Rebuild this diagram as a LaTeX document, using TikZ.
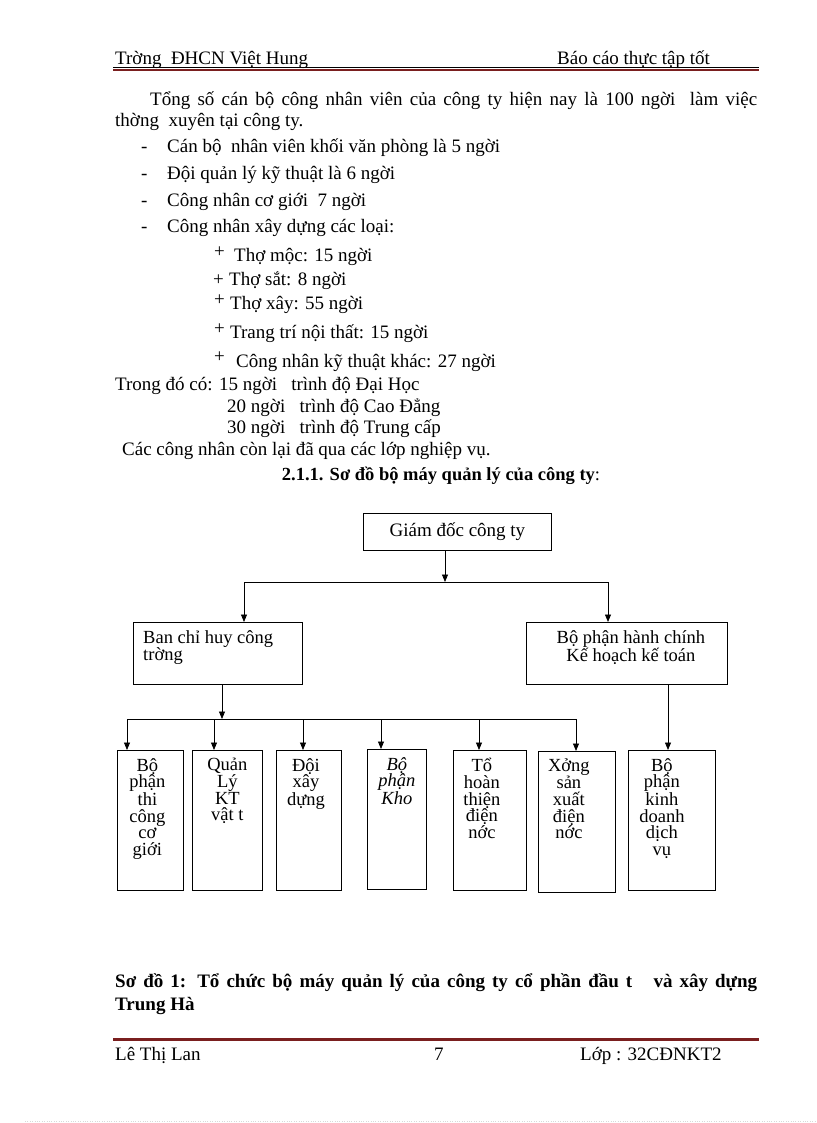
\documentclass[tikz,border=0pt]{standalone}
\usepackage{fontspec}
\setmainfont{Liberation Serif}
\usetikzlibrary{arrows.meta}
\definecolor{rulered}{HTML}{7A1F1F}

\begin{document}
\begin{tikzpicture}[x=1pt, y=-1pt,
    every node/.style={font=\fontsize{19}{21}\selectfont},
    txt/.style={anchor=base west, inner sep=0pt},
    box/.style={draw, line width=0.8pt, inner sep=0pt, anchor=north west},
    col/.style={box, minimum height=140pt},
    lbl/.style={anchor=north, yshift=-8pt, align=center, inner sep=0pt,
      font=\fontsize{18.5}{16.7}\selectfont},
    arr/.style={line width=0.8pt, -{Triangle[length=7.5pt, width=6pt]}}]
  \useasboundingbox (0,0) rectangle (816,1123);

  % header
  \node[txt] (school) at (115,65) {Trờng\ \ ĐHCN Việt Hung};
  \node[txt] (report) at (557,65) {Báo cáo thực tập tốt};
  \draw[line width=0.6pt] (113,67.5) -- (759,67.5);
  \draw[rulered, line width=2.5pt] (113,70) -- (759,70);

  % text
  \node[txt, text width=642pt, align=justify] (intro) at (115,106)
    {\hspace*{35pt}Tổng số cán bộ công nhân viên của công ty hiện nay là 100 ngời\ \ làm việc\linebreak
     thờng\ \ xuyên tại công ty.};
  \foreach \y/\t [count=\i] in {153/Cán bộ\ \ nhân viên khối văn phòng là 5 ngời,
      180/Đội quản lý kỹ thuật là 6 ngời, 207/Công nhân cơ giới\ \ 7 ngời,
      233/Công nhân xây dựng các loại:} {
    \node[txt] (dash\i) at (141,\y) {-};
    \node[txt] (item\i) at (167,\y) {\t};
  }
  \node[txt] (plus1) at (214,257) {+};
  \node[txt] (kind1) at (234,261) {Thợ mộc: 15 ngời};
  \node[txt] (plus2) at (213,285) {+};
  \node[txt] (kind2) at (229,285) {Thợ sắt: 8 ngời};
  \node[txt] (plus3) at (214,305) {+};
  \node[txt] (kind3) at (230,309) {Thợ xây: 55 ngời};
  \node[txt] (plus4) at (214,334) {+};
  \node[txt] (kind4) at (230,338) {Trang trí nội thất: 15 ngời};
  \node[txt] (plus5) at (214,362) {+};
  \node[txt] (kind5) at (236,367) {Công nhân kỹ thuật khác: 27 ngời};
  \node[txt] (lvl1) at (115,390) {Trong đó có: 15 ngời\ \ \ trình độ Đại Học};
  \node[txt] (lvl2) at (227,412) {20 ngời\ \ \ trình độ Cao Đẳng};
  \node[txt] (lvl3) at (227,433) {30 ngời\ \ \ trình độ Trung cấp};
  \node[txt] (rest) at (122,455) {Các công nhân còn lại đã qua các lớp nghiệp vụ.};
  \node[txt, anchor=base, font=\fontsize{18.5}{21}\selectfont\bfseries] (title) at (441,480)
    {2.1.1. Sơ đồ bộ máy quản lý của công ty\mdseries:};

  % chart
  \node[box, minimum width=188pt, minimum height=37pt] (gd) at (363,513) {Giám đốc công ty};
  \node[box, minimum width=169pt, minimum height=62pt,
    label={[lbl, anchor=north west, xshift=10pt, align=left]north west:Ban chỉ huy công\\trờng}] (bch) at (133,622) {};
  \node[box, minimum width=201pt, minimum height=62pt,
    label={[lbl, xshift=4pt]north:Bộ phận hành chính\\Kế hoạch kế toán}] (bhc) at (526,622) {};

  \node[col, minimum width=66pt, label={[lbl, xshift=-3pt]north:Bộ\\phận\\thi\\công\\cơ\\giới}] (b1) at (117,750) {};
  \node[col, minimum width=70pt, label={[lbl]north:Quản\\Lý\\KT\\vật t}] (b2) at (192,750) {};
  \node[col, minimum width=65pt, label={[lbl, xshift=-3pt]north:Đội\\xây\\dựng}] (b3) at (276,750) {};
  \node[col, minimum width=59pt, label={[lbl, font=\fontsize{18.5}{16.7}\selectfont\itshape]north:Bộ\\phận\\Kho}] (b4) at (367,749) {};
  \node[col, minimum width=73pt, label={[lbl, xshift=-8pt]north:Tổ\\hoàn\\thiện\\điện\\nớc}] (b5) at (453,750) {};
  \node[col, minimum width=77pt, minimum height=141pt, label={[lbl, xshift=-8pt]north:Xởng\\sản\\xuất\\điện\\nớc}] (b6) at (538,751) {};
  \node[col, minimum width=87pt, label={[lbl, xshift=-10pt]north:Bộ\\phận\\kinh\\doanh\\dịch\\vụ}] (b7) at (628,750) {};

  \coordinate (top) at (445,582);
  \coordinate (topl) at (244,582);
  \coordinate (topr) at (608,582);
  \draw[arr] (top |- gd.south) -- (top);
  \draw[line width=0.8pt] (topl) -- (topr);
  \draw[arr] (topl) -- (topl |- bch.north);
  \draw[arr] (topr) -- (topr |- bhc.north);

  \coordinate (bus) at (222,719);
  \coordinate (busl) at (127,719);
  \coordinate (busr) at (577,719);
  \draw[arr] (bus |- bch.south) -- (bus);
  \draw[line width=0.8pt] (busl) -- (busr);
  \foreach \x/\n in {127/b1, 214/b2, 303/b3, 381/b4, 479/b5, 576/b6} {
    \coordinate (d\n) at (\x,719);
    \draw[arr] (d\n) -- (d\n |- \n.north);
  }
  \coordinate (side) at (668,700);
  \draw[arr] (side |- bhc.south) -- (side |- b7.north);

  % caption and footer
  \node[txt, text width=642pt, align=justify, font=\fontsize{19}{23}\selectfont\bfseries] (caption) at (115,987)
    {Sơ đồ 1: Tổ chức bộ máy quản lý của công ty cổ phần đầu t\ \ \ và xây dựng\linebreak Trung Hà};
  \draw[rulered, line width=3.5pt] (113,1039.5) -- (759,1039.5);
  \node[txt] (author) at (115,1060) {Lê Thị Lan};
  \node[txt] (page) at (434,1060) {7};
  \node[txt] (class) at (580,1060) {Lớp : 32CĐNKT2};
  \draw[black!15, dotted] (25,1121.5) -- (816,1121.5);
\end{tikzpicture}
\end{document}
